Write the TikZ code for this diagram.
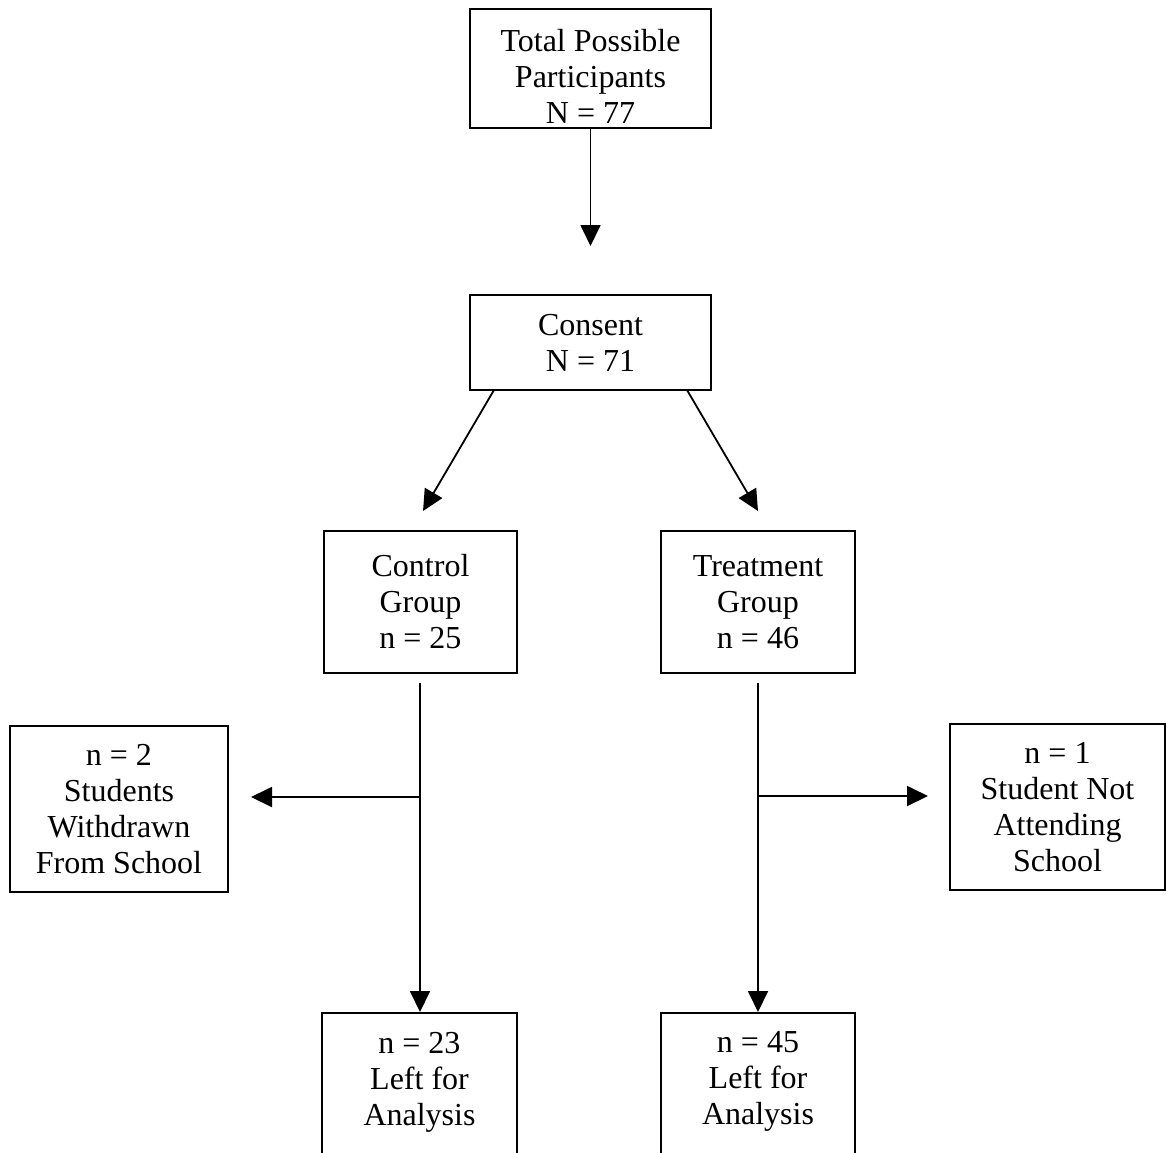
\documentclass[tikz,border=0pt]{standalone}
\usepackage{fontspec}
\setmainfont{Liberation Serif}
\usetikzlibrary{arrows.meta}
\begin{document}
\begin{tikzpicture}[x=1pt,y=-1pt,
  box/.style={draw,line width=1.8pt,align=center,font=\fontsize{32}{36}\selectfont,inner sep=0pt},
  arr/.style={line width=1.8pt,-{Triangle[length=21pt,width=20pt]}},
  ln/.style={line width=1.8pt}]
\useasboundingbox (0,0) rectangle (1166,1152);
% boxes
\node[box,minimum width=241pt,minimum height=119pt] (total) at (590.5,68.5) {\rule{0pt}{38pt}Total Possible\\Participants\\N = 77};
\node[box,minimum width=241pt,minimum height=95pt] (cons) at (590.5,342.5) {Consent\\N = 71};
\node[box,minimum width=193pt,minimum height=142pt] (ctrl) at (420.5,602) {Control\\Group\\n = 25};
\node[box,minimum width=194pt,minimum height=142pt] (treat) at (758,602) {Treatment\\Group\\n = 46};
\node[box,minimum width=218pt,minimum height=166pt] (wd) at (119,809) {n = 2\\Students\\Withdrawn\\From School};
\node[box,minimum width=215pt,minimum height=166pt] (na) at (1057.5,807) {n = 1\\Student Not\\Attending\\School};
\node[box,anchor=north,minimum width=195pt,inner ysep=19pt] (lc) at (419.5,1012) {n = 23\\Left for\\Analysis\\ \strut};
\node[box,anchor=north,minimum width=194pt,inner ysep=19pt] (lt) at (758,1012) {n = 45\\Left for\\Analysis\\ \strut};
% connector points
\coordinate (t1) at (590.5,246);
\coordinate (d1s) at (494,390);
\coordinate (d1e) at (423,511);
\coordinate (d2s) at (687,390);
\coordinate (d2e) at (758,511);
\coordinate (c1s) at (420,683);
\coordinate (c1b) at (420,797);
\coordinate (c1w) at (251,797);
\coordinate (c2s) at (758,683);
\coordinate (c2b) at (758,796);
\coordinate (c2e) at (928,796);
% connectors
\draw[arr] (total.south) -- (t1);
\draw[arr] (d1s) -- (d1e);
\draw[arr] (d2s) -- (d2e);
\draw[arr] (c1s) -- (c1s |- lc.north);
\draw[arr] (c1b) -- (c1w);
\draw[arr] (c2s) -- (c2s |- lt.north);
\draw[arr] (c2b) -- (c2e);
\end{tikzpicture}
\end{document}
